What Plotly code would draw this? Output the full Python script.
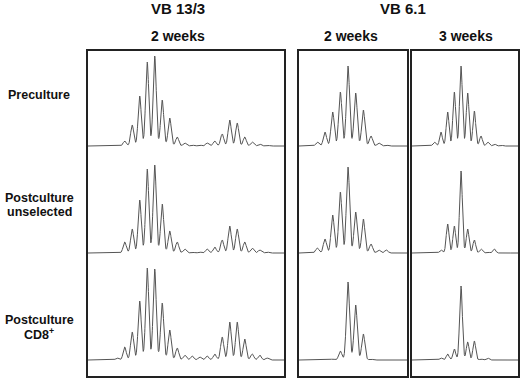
import numpy as np
import plotly.graph_objects as go

# ---------------- data (peak heights, arbitrary units) -------------
row_labels = [["Preculture"], ["Postculture", "unselected"], ["Postculture", "CD8<sup>+</sup>"]]
group_titles = ["VB 13/3", "VB 6.1"]
column_titles = ["2 weeks", "2 weeks", "3 weeks"]

# VB 13/3, 2 weeks (21 CDR3 length classes)
vb13_pre = [0, 5, 21, 50, 84, 90, 46, 28, 9, 3, 1, 1, 3, 5, 12, 26, 23, 9, 4, 2, 1]
vb13_unsel = [0, 11, 24, 53, 84, 88, 49, 22, 11, 4, 1, 1, 4, 6, 13, 27, 24, 11, 5, 3, 1]
vb13_cd8 = [2, 13, 28, 59, 92, 91, 57, 30, 12, 5, 4, 3, 4, 6, 23, 38, 38, 21, 6, 5, 2]

# VB 6.1, 2 weeks (10 classes)
vb6_2w_pre = [4, 14, 34, 54, 80, 53, 36, 10, 3, 1]
vb6_2w_unsel = [5, 14, 38, 61, 86, 41, 34, 9, 3, 3]
vb6_2w_cd8 = [0, 0, 1, 9, 78, 55, 26, 1, 0, 0]

# VB 6.1, 3 weeks (11 classes)
vb6_3w_pre = [4, 14, 34, 54, 80, 53, 35, 10, 4, 2, 1]
vb6_3w_unsel = [0, 3, 29, 27, 82, 24, 13, 4, 1, 4, 0]
vb6_3w_cd8 = [0, 2, 6, 11, 74, 18, 19, 1, 2, 0, 0]

columns = [
    [vb13_pre, vb13_unsel, vb13_cd8],
    [vb6_2w_pre, vb6_2w_unsel, vb6_2w_cd8],
    [vb6_3w_pre, vb6_3w_unsel, vb6_3w_cd8],
]

# ---------------- layout constants -------------
W, H = 520, 379
FONT = "Liberation Sans, Arial, Helvetica, sans-serif"
box_px = [(88, 284), (299, 407), (412, 518)]          # left/right edges of boxes (page px)
box_top, box_bot = 51, 376
first_peak_px = [117.2, 317.3, 434.3]
spacing_px = [7.5, 7.67, 6.67]
row_offsets = [230, 123, 16]        # baseline of each row in y units
sigma = 0.21                        # peak width in length-class units


def px_x(p):
    return p / W


def px_y(p):
    return 1 - p / H


fig = go.Figure()
for c, col in enumerate(columns):
    x0, x1 = box_px[c]
    xr = [(x0 - first_peak_px[c]) / spacing_px[c], (x1 - first_peak_px[c]) / spacing_px[c]]
    xs = np.linspace(xr[0], xr[1], 1500)
    for r, heights in enumerate(col):
        ys = np.zeros_like(xs)
        for i, h in enumerate(heights):
            ys += h * np.exp(-0.5 * ((xs - i) / sigma) ** 2)
        fig.add_trace(go.Scatter(
            x=xs, y=ys + row_offsets[r], mode="lines",
            line=dict(color="#555555", width=1),
            xaxis="x" if c == 0 else f"x{c+1}",
            yaxis="y" if c == 0 else f"y{c+1}",
            hoverinfo="skip", showlegend=False,
        ))
    ax = dict(domain=[px_x(x0), px_x(x1)], range=xr, showgrid=False, zeroline=False,
              showticklabels=False, ticks="", showline=True, mirror=True,
              linecolor="#222222", linewidth=1.5, fixedrange=True)
    ay = dict(domain=[px_y(box_bot), px_y(box_top)], range=[0, box_bot - box_top],
              showgrid=False, zeroline=False, showticklabels=False, ticks="",
              showline=True, mirror=True, linecolor="#222222", linewidth=1.5,
              fixedrange=True)
    if c == 0:
        ay["anchor"] = "x"
        ax["anchor"] = "y"
        fig.update_layout(xaxis=ax, yaxis=ay)
    else:
        ay["anchor"] = f"x{c+1}"
        ax["anchor"] = f"y{c+1}"
        fig.update_layout(**{f"xaxis{c+1}": ax, f"yaxis{c+1}": ay})

annotations = []


def txt(s, x, y, size):
    annotations.append(dict(text=f"<b>{s}</b>", x=px_x(x), y=px_y(y), xref="paper",
                            yref="paper", showarrow=False, xanchor="center",
                            yanchor="middle", font=dict(family=FONT, size=size, color="#111111")))


txt(group_titles[0], 178, 8.5, 15)
txt(group_titles[1], 403, 8.5, 15)
for s, cx in zip(column_titles, [178, 350.5, 465.5]):
    txt(s, cx, 36, 14)

label_y = [[94.5], [198, 212], [320, 334]]
for lines, ys in zip(row_labels, label_y):
    for s, yy in zip(lines, ys):
        txt(s, 39, yy, 12.5)

fig.update_layout(width=W, height=H, margin=dict(l=0, r=0, t=0, b=0),
                  paper_bgcolor="white", plot_bgcolor="white",
                  annotations=annotations)
fig.write_html(
    "out.html",
    config={"displayModeBar": False},
    post_script="document.body.style.margin='0';document.body.style.overflow='hidden';",
)
